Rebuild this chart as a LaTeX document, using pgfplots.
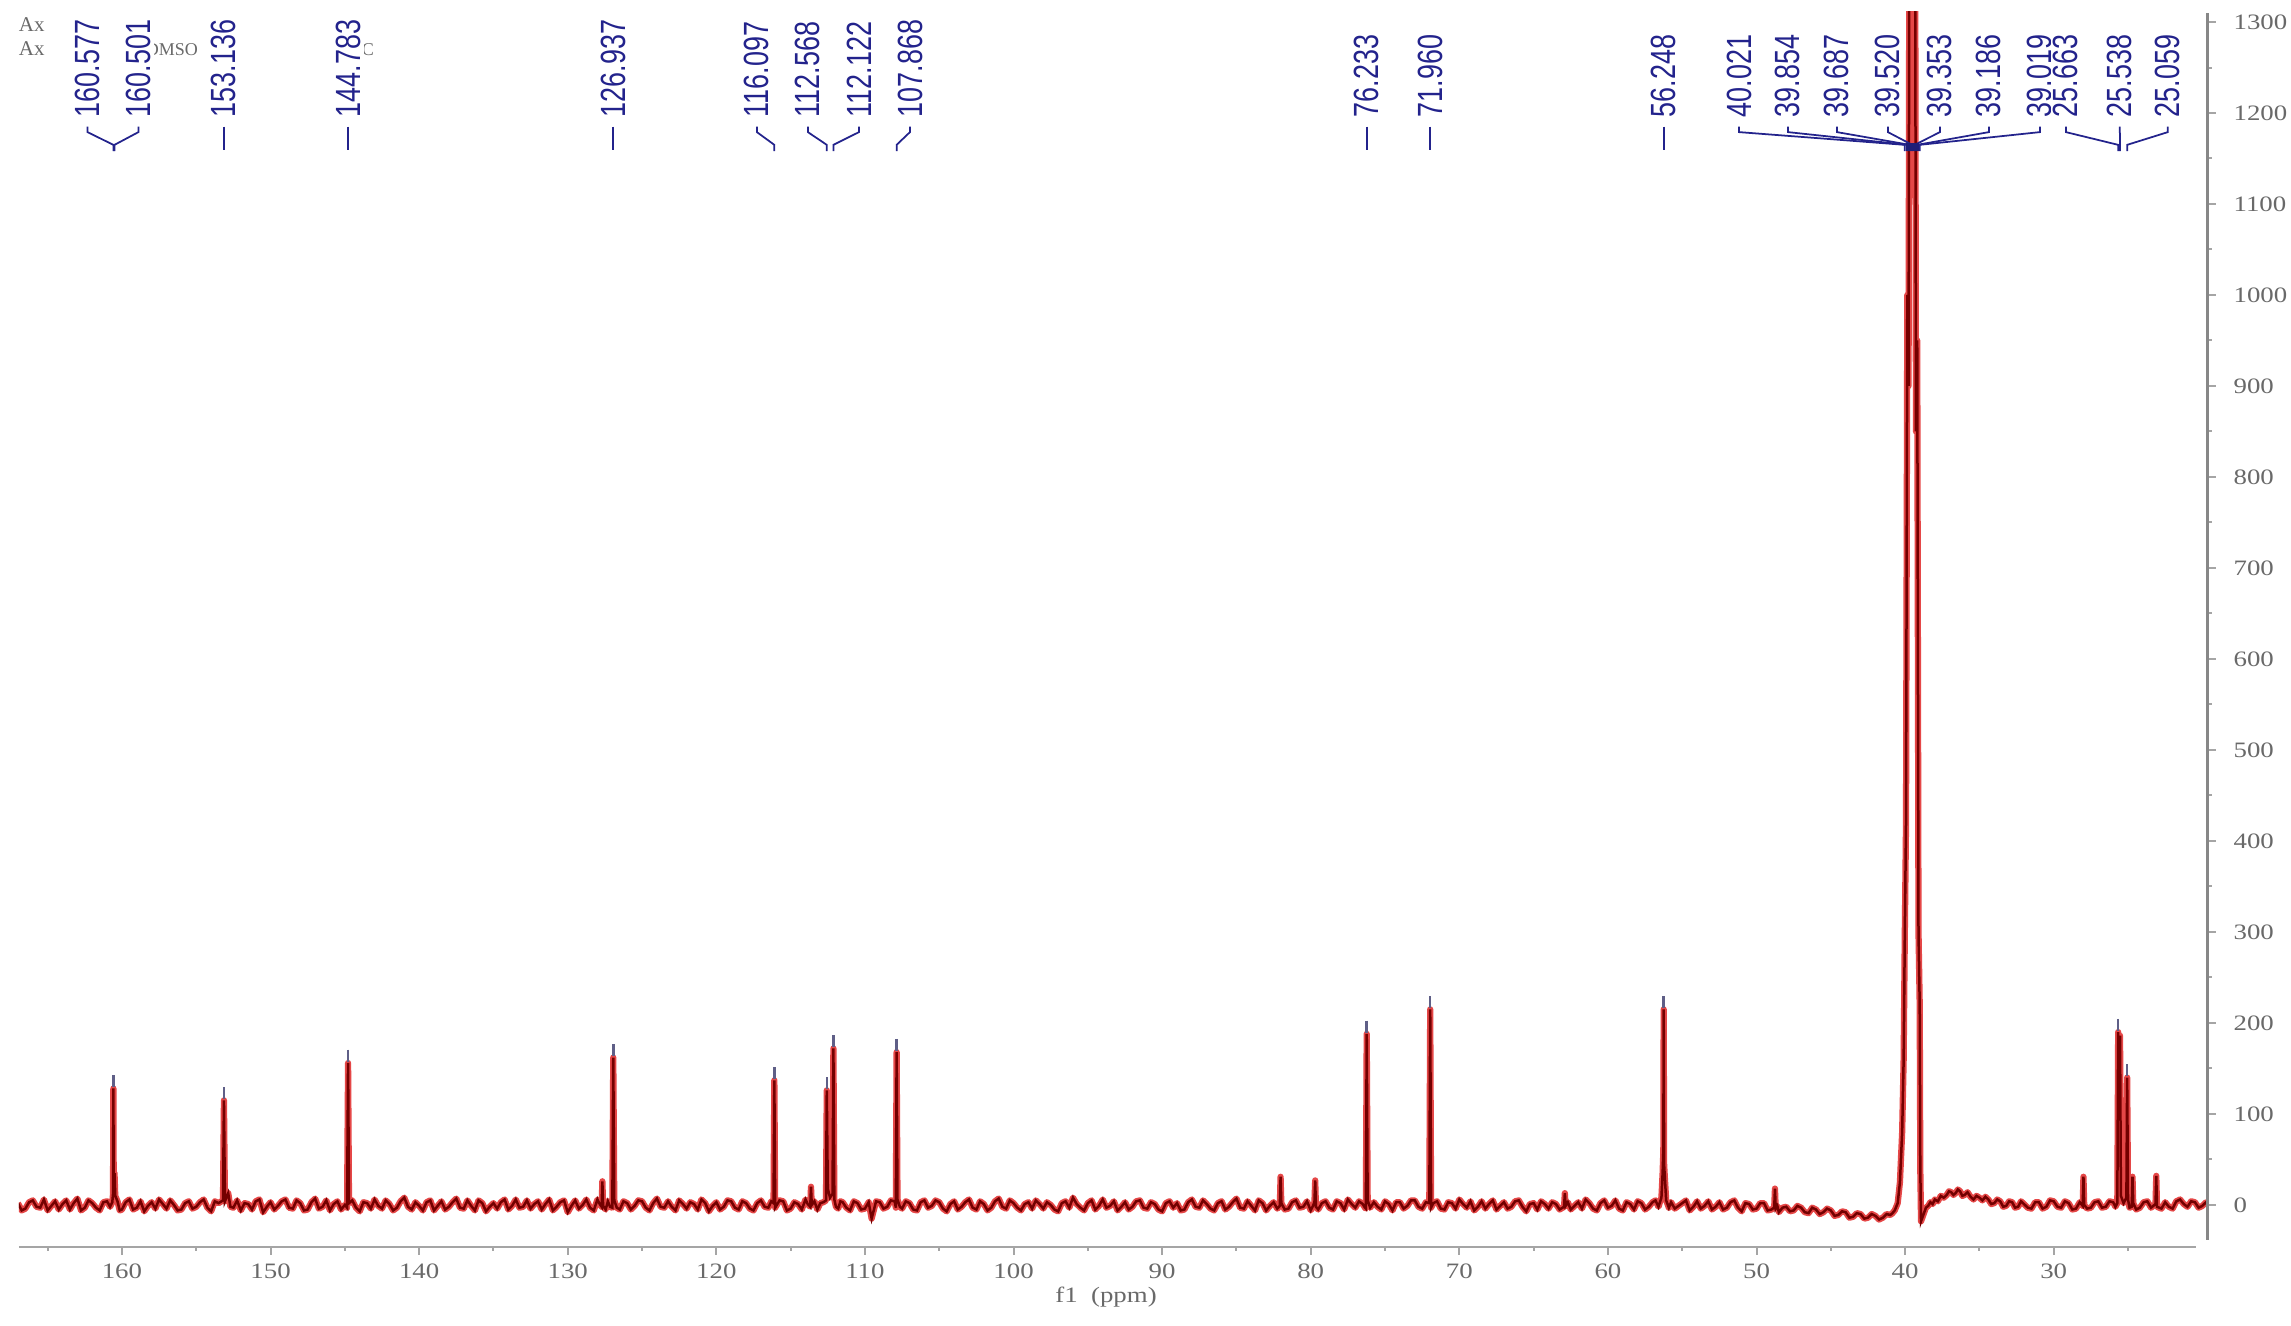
\documentclass[border=0pt]{standalone}
\usepackage{fontspec}
\setmainfont{Liberation Serif}
\newfontfamily\lsans{Liberation Sans}
\usepackage{pgfplots}
\usepackage{pgfplotstable}
\pgfplotsset{compat=1.18}

\definecolor{specred}{RGB}{222,25,25}
\definecolor{specdark}{RGB}{115,0,0}
\definecolor{lblblue}{RGB}{35,35,140}
\definecolor{axgray}{RGB}{165,165,165}
\definecolor{yaxgray}{RGB}{135,135,135}
\definecolor{txtgray}{RGB}{105,105,105}
\definecolor{pickgray}{RGB}{95,95,135}

% peak label text: narrow sans, blue
\newcommand{\pk}[1]{{\lsans\fontsize{7}{7}\selectfont\scalebox{0.77}[1]{#1}}}
\newcommand{\plabel}[2]{\node[rotate=90, anchor=west, inner sep=0.6pt, fill=white, text=lblblue] at (axis cs:#1,1191) {\pk{#2}};}
% connector from label (x=#1) to peak (x=#2)
\newcommand{\pconn}[2]{\draw[lblblue, line width=0.35pt] (axis cs:#1,1185) -- (axis cs:#1,1179) -- (axis cs:#2,1165) -- (axis cs:#2,1158);}
\newcommand{\sconn}[1]{\draw[lblblue, line width=0.35pt] (axis cs:#1,1185) -- (axis cs:#1,1159);}

% 13C spectrum, intensity
\pgfplotstableread{
ppm int
167.0 2
166.75 -6
166.5 -4
166.25 3
166.0 5
165.75 -2
165.5 -3
165.25 6
165.0 -6
164.75 -1
164.5 4
164.25 -5
164.0 1
163.75 5
163.5 -5
163.25 2
163.0 7
162.75 -6
162.5 -3
162.25 5
162.0 2
161.75 -3
161.5 -6
161.25 3
161.0 4
160.8 -2
160.65 3
160.6 12
160.577 128
160.555 22
160.501 35
160.45 10
160.3 4
160.15 -6
160.0 -5
159.75 3
159.5 6
159.25 -5
159.0 -3
158.75 4
158.5 -7
158.25 -1
158.0 3
157.75 -4
157.5 6
157.25 1
157.0 -4
156.75 5
156.5 0
156.25 -6
156.0 -5
155.75 2
155.5 4
155.25 -4
155.0 -2
154.75 3
154.5 6
154.25 -3
154.0 -7
153.75 4
153.5 2
153.2 5
153.136 115
153.07 4
152.85 13
152.7 -2
152.5 -3
152.25 5
152.0 -6
151.75 2
151.5 1
151.25 -5
151.0 4
150.75 6
150.5 -8
150.25 -2
150.0 3
149.75 -5
149.5 -1
149.25 4
149.0 6
148.75 -3
148.5 -4
148.25 5
148.0 2
147.75 -6
147.5 -5
147.25 3
147.0 7
146.75 -4
146.5 -2
146.25 5
146.0 -6
145.75 1
145.5 4
145.25 -5
145.0 0
144.85 -3
144.783 156
144.72 2
144.5 5
144.25 -3
144.0 -7
143.75 3
143.5 2
143.25 -4
143.0 6
142.75 -1
142.5 -4
142.25 5
142.0 1
141.75 -6
141.5 -3
141.25 4
141.0 8
140.75 -2
140.5 -5
140.25 3
140.0 -1
139.75 -6
139.5 3
139.25 5
139.0 -6
138.75 -1
138.5 4
138.25 -5
138.0 -2
137.75 3
137.5 7
137.25 -3
137.0 -4
136.75 5
136.5 -1
136.25 -6
136.0 5
135.75 2
135.5 -7
135.25 -2
135.0 2
134.75 -4
134.5 3
134.25 6
134.0 -5
133.75 -1
133.5 6
133.25 -3
133.0 -2
132.75 5
132.5 -4
132.25 1
132.0 4
131.75 -5
131.5 1
131.25 6
131.0 -6
130.75 -2
130.5 3
130.25 5
130.0 -8
129.75 -1
129.5 5
129.25 -4
129.0 0
128.75 6
128.5 -3
128.25 -6
128.0 6
127.85 1
127.72 -2
127.67 26
127.62 -1
127.45 -5
127.3 4
127.15 -2
127.0 -3
126.937 162
126.87 5
126.7 -3
126.5 -5
126.25 4
126.0 2
125.75 -5
125.5 -1
125.25 5
125.0 4
124.75 -3
124.5 -6
124.25 2
124.0 7
123.75 -2
123.5 -3
123.25 4
123.0 -2
122.75 -6
122.5 5
122.25 1
122.0 -4
121.75 3
121.5 1
121.25 -5
121.0 6
120.75 2
120.5 -7
120.25 -1
120.0 3
119.75 -5
119.5 -2
119.25 5
119.0 4
118.75 -3
118.5 -5
118.25 4
118.0 2
117.75 -4
117.5 -6
117.25 2
117.0 5
116.75 -2
116.5 -3
116.3 4
116.15 2
116.097 137
116.04 -3
115.75 5
115.5 4
115.25 -6
115.0 -4
114.75 3
114.5 1
114.25 -5
114.0 6
113.85 1
113.68 -2
113.63 20
113.58 0
113.4 4
113.2 -5
113.0 2
112.8 3
112.62 5
112.568 126
112.5 18
112.35 8
112.18 12
112.122 172
112.06 6
111.95 -2
111.8 -4
111.65 4
111.5 3
111.25 -3
111.0 -6
110.75 4
110.5 2
110.25 -5
110.0 -4
109.75 3
109.55 -15
109.25 4
109.0 3
108.75 -4
108.5 -2
108.25 5
108.0 4
107.92 -3
107.868 168
107.81 6
107.65 -2
107.5 -4
107.25 4
107.0 2
106.75 -5
106.5 -6
106.25 3
106.0 5
105.75 -3
105.5 -1
105.25 5
105.0 3
104.75 -4
104.5 -7
104.25 1
104.0 4
103.75 -5
103.5 -2
103.25 3
103.0 6
102.75 -3
102.5 -5
102.25 4
102.0 1
101.75 -6
101.5 -3
101.25 4
101.0 7
100.75 -2
100.5 -4
100.25 5
100.0 2
99.75 -3
99.5 -6
99.25 1
99.0 3
98.75 -4
98.5 5
98.25 1
98.0 -4
97.75 3
97.5 0
97.25 -5
97.0 -7
96.75 2
96.5 4
96.25 -3
96.0 8
95.75 1
95.5 -3
95.25 -6
95.0 2
94.75 5
94.5 -5
94.25 -1
94.0 6
93.75 -3
93.5 -1
93.25 4
93.0 -6
92.75 -2
92.5 3
92.25 -5
92.0 -2
91.75 4
91.5 5
91.25 -3
91.0 -4
90.75 3
90.5 1
90.25 -5
90.0 -7
89.75 2
89.5 4
89.25 -3
89.0 2
88.75 -6
88.5 -5
88.25 3
88.0 6
87.75 -2
87.5 -3
87.25 5
87.0 1
86.75 -4
86.5 -6
86.25 2
86.0 4
85.75 -5
85.5 -2
85.25 3
85.0 7
84.75 -3
84.5 -4
84.25 4
84.0 -1
83.75 -6
83.5 5
83.25 2
83.0 -6
82.75 -1
82.5 3
82.25 -4
82.08 -1
82.03 31
81.98 2
81.75 -5
81.5 -4
81.25 3
81.0 5
80.75 -3
80.5 -2
80.25 4
80.0 -6
79.85 -1
79.75 3
79.7 27
79.65 -2
79.5 -5
79.25 2
79.0 4
78.75 -3
78.5 -5
78.25 4
78.0 2
77.75 -5
77.5 6
77.25 1
77.0 -3
76.75 4
76.5 1
76.35 -3
76.29 -4
76.233 188
76.17 5
76.0 -3
75.75 3
75.5 -2
75.25 -5
75.0 4
74.75 1
74.5 -6
74.25 3
74.0 3
73.75 -4
73.5 -1
73.25 5
73.0 5
72.75 -2
72.5 -4
72.25 3
72.02 2
71.96 215
71.9 -3
71.75 2
71.5 4
71.25 -4
71.0 -5
70.75 3
70.5 2
70.25 -4
70.0 6
69.75 1
69.5 -3
69.25 4
69.0 -6
68.75 -2
68.5 4
68.25 -4
68.0 1
67.75 5
67.5 -5
67.25 -1
67.0 3
66.75 -4
66.5 -2
66.25 4
66.0 5
65.75 -2
65.5 -7
65.25 1
65.0 2
64.75 -5
64.5 4
64.25 1
64.0 -4
63.75 3
63.5 1
63.25 -5
62.95 -2
62.9 13
62.85 -1
62.7 3
62.5 -5
62.25 -1
62.0 3
61.75 -4
61.5 6
61.25 2
61.0 -4
60.75 -6
60.5 2
60.25 5
60.0 -3
59.75 -1
59.5 5
59.25 -4
59.0 -6
58.75 3
58.5 1
58.25 -5
58.0 4
57.75 2
57.5 -5
57.25 -2
57.0 3
56.8 5
56.6 -2
56.4 8
56.32 35
56.27 60
56.248 215
56.22 45
56.17 30
56.08 5
55.9 -3
55.75 3
55.5 -4
55.25 -1
55.0 2
54.75 5
54.5 -6
54.25 -2
54.0 4
53.75 -4
53.5 -1
53.25 4
53.0 -5
52.75 -2
52.5 3
52.25 -5
52.0 -3
51.75 3
51.5 5
51.25 -3
51.0 -7
50.75 2
50.5 1
50.25 -5
50.0 -4
49.75 2
49.5 2
49.25 -6
49.0 -5
48.81 -3
48.76 18
48.71 -4
48.6 -1
48.5 -8
48.25 -3
48.0 -2
47.75 -7
47.5 -6
47.25 -1
47.0 -3
46.75 -8
46.5 -9
46.25 -3
46.0 -5
45.75 -10
45.5 -8
45.25 -4
45.0 -6
44.75 -12
44.5 -11
44.25 -7
44.0 -8
43.75 -14
43.5 -13
43.25 -9
43.0 -10
42.75 -15
42.5 -14
42.25 -10
42.0 -12
41.75 -16
41.5 -14
41.25 -10
41.0 -11
40.85 -9
40.7 -6
40.5 2
40.35 25
40.2 80
40.1 160
40.021 300
39.94 420
39.854 1000
39.77 900
39.687 1700
39.6 1500
39.52 2200
39.44 1500
39.353 1700
39.27 850
39.186 950
39.1 300
39.019 220
38.98 40
38.93 -18
38.8 -12
38.6 -3
38.45 -1
38.3 3
38.15 1
38.0 6
37.8 4
37.6 10
37.4 8
37.2 11
37.05 15
36.9 14
36.75 11
36.6 13
36.45 17
36.3 15
36.15 10
36.0 11
35.8 14
35.6 9
35.4 6
35.2 10
35.0 8
34.8 5
34.6 9
34.4 6
34.2 1
34.0 2
33.8 6
33.6 4
33.4 -2
33.2 -1
33.0 4
32.8 3
32.6 -3
32.4 -2
32.2 4
32.0 1
31.75 -3
31.5 -4
31.25 3
31.0 3
30.75 -4
30.5 -2
30.25 5
30.0 4
29.75 -2
29.5 -3
29.25 4
29.0 2
28.75 -5
28.5 -4
28.25 3
28.05 -1
28.0 31
27.95 0
27.75 -4
27.5 -3
27.25 3
27.0 4
26.75 -3
26.5 -2
26.25 4
26.0 3
25.85 -2
25.72 2
25.663 190
25.6 120
25.538 186
25.48 10
25.3 2
25.11 8
25.059 140
25.0 6
24.9 -3
24.75 -2
24.7 31
24.65 2
24.45 -5
24.2 -3
23.95 3
23.7 4
23.45 -3
23.15 1
23.1 32
23.05 -2
22.75 -4
22.5 3
22.25 -2
22.0 -4
21.75 4
21.5 6
21.25 1
21.0 -2
20.75 4
20.5 3
20.25 -3
20.0 -1
19.75 3
19.5 2
}\spec

% peak-picking marks above the picked peaks
\pgfplotstableread{
ppm int
160.577 136
153.136 123
144.783 164
126.937 170
116.097 145
112.568 134
112.122 180
107.868 176
76.233 196
71.96 223
56.248 223
25.663 198
25.059 148
}\picks

\begin{document}
\begin{tikzpicture}
\useasboundingbox (-3.8pt,-15.8pt) rectangle (454.4pt,249.4pt);
\begin{axis}[
  at={(0,0)}, anchor=south west,
  scale only axis,
  width=437.8pt, height=247pt,
  x dir=reverse,
  xmin=19.62, xmax=166.93,
  ymin=-46.2, ymax=1311,
  axis line style={draw=none},
  axis x line*=bottom, axis y line*=right,
  xtick={30,40,...,160},
  minor xtick={25,35,...,165},
  ytick={0,100,...,1300},
  minor ytick={50,150,...,1250},
  tick align=outside,
  major tick length=1.6pt, minor tick length=0.8pt,
  every tick/.style={axgray, line width=0.4pt},
  /pgf/number format/assume math mode=true,
  /pgf/number format/1000 sep={},
  xticklabel={\scalebox{1.22}[1]{\pgfmathprintnumber{\tick}}},
  yticklabel={\scalebox{1.22}[1]{\pgfmathprintnumber{\tick}}},
  ticklabel style={font=\fontsize{4.4}{5}\selectfont, text=txtgray},
  xticklabel shift=-1.7pt,
  clip mode=individual,
]

% header text, partly hidden by the peak labels
\node[anchor=west, inner sep=0, font=\fontsize{4.2}{4.2}\selectfont, text=txtgray] at (axis cs:167.0,1296.7) {Ax};
\node[anchor=west, inner sep=0, font=\fontsize{4.2}{4.2}\selectfont, text=txtgray] at (axis cs:167.0,1270.3) {Ax};
\node[anchor=west, inner sep=0, font=\fontsize{3.6}{3.6}\selectfont, text=txtgray] at (axis cs:158.45,1269.2) {DMSO};
\node[anchor=west, inner sep=0, font=\fontsize{3.6}{3.6}\selectfont, text=txtgray] at (axis cs:145.13,1269.2) {13C};

% peak labels
\plabel{162.32}{160.577}
\plabel{158.89}{160.501}
\plabel{153.136}{153.136}
\plabel{144.75}{144.783}
\plabel{126.937}{126.937}
\plabel{117.27}{116.097}
\plabel{113.84}{112.568}
\plabel{110.40}{112.122}
\plabel{106.97}{107.868}
\plabel{76.233}{76.233}
\plabel{71.96}{71.960}
\plabel{56.248}{56.248}
\plabel{51.18}{40.021}
\plabel{47.89}{39.854}
\plabel{44.59}{39.687}
\plabel{41.16}{39.520}
\plabel{37.66}{39.353}
\plabel{34.36}{39.186}
\plabel{30.93}{39.019}
\plabel{29.18}{25.663}
\plabel{25.55}{25.538}
\plabel{22.32}{25.059}

% spectrum: red halo under a dark trace
\addplot[specred, line width=1.25pt, opacity=0.8, line join=round] table[x=ppm, y=int] {\spec};
\addplot[specdark, line width=0.5pt, line join=miter] table[x=ppm, y=int] {\spec};
\addplot[only marks, mark=|, mark size=1.2pt, mark options={pickgray, line width=0.5pt}] table[x=ppm, y=int] {\picks};

% connectors
\pconn{162.32}{160.577}
\pconn{158.89}{160.501}
\sconn{153.136}
\sconn{144.783}
\sconn{126.937}
\pconn{117.27}{116.097}
\pconn{113.84}{112.568}
\pconn{110.40}{112.122}
\pconn{106.97}{107.868}
\sconn{76.233}
\sconn{71.96}
\sconn{56.248}
\pconn{51.18}{40.021}
\pconn{47.89}{39.854}
\pconn{44.59}{39.687}
\pconn{41.16}{39.520}
\pconn{37.66}{39.353}
\pconn{34.36}{39.186}
\pconn{30.93}{39.019}
\pconn{29.18}{25.663}
\pconn{25.55}{25.538}
\pconn{22.32}{25.059}
\fill[lblblue!85!black] (axis cs:39.95,1158) rectangle (axis cs:39.1,1167);

% axis lines as in the original layout
\draw[axgray, line width=0.45pt] (axis cs:166.93,-46.2) -- (axis cs:20.45,-46.2);
\draw[yaxgray, line width=0.6pt] (axis cs:19.62,-38) -- (axis cs:19.62,1310);

\node[font=\fontsize{4.4}{5}\selectfont, text=txtgray] at (axis description cs:0.4966,0) [yshift=-10pt] {\scalebox{1.22}[1]{f1\ \ (ppm)}};
\end{axis}
\end{tikzpicture}
\end{document}
